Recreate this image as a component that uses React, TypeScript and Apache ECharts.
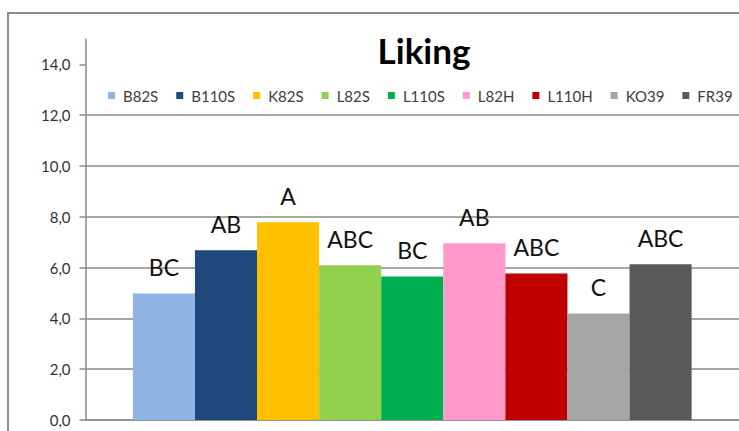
import React, { useEffect, useRef } from "react";
import * as echarts from "echarts";

// Liking scores per sample, with significance groups shown above each bar
const samples = ["B82S", "B110S", "K82S", "L82S", "L110S", "L82H", "L110H", "KO39", "FR39"];
const liking = [4.98, 6.68, 7.79, 6.09, 5.65, 6.96, 5.77, 4.19, 6.13];
const groups = ["BC", "AB", "A", "ABC", "BC", "AB", "ABC", "C", "ABC"];
const colors = ["#8DB4E2", "#1F497D", "#FFC000", "#92D050", "#00B050", "#FF99CC", "#C00000", "#A5A5A5", "#595959"];
const yTicks = [0, 2, 4, 6, 8, 10, 12, 14];
const category = ["Liking"];

const FONT = "Lato, 'Open Sans', sans-serif";
const GRID = "#8A8A8A";

export default function App() {
  const ref = useRef<HTMLDivElement>(null);

  useEffect(() => {
    if (!ref.current) return;
    const chart = echarts.init(ref.current, undefined, { renderer: "svg" });

    const series = samples.map((name, i) => ({
      name,
      type: "bar" as const,
      data: [liking[i]],
      barGap: "0%",
      barCategoryGap: "14.5%",
      itemStyle: { color: colors[i] },
      label: {
        show: true,
        position: "top" as const,
        distance: 15,
        formatter: () => groups[i],
        fontFamily: FONT,
        fontSize: 23,
        color: "#111",
      },
    }));

    chart.setOption({
      animation: false,
      backgroundColor: "#fff",
      color: colors,
      grid: { left: 85.5, top: 39, right: -5, bottom: 11, containLabel: false },
      legend: {
        left: 103,
        top: 83,
        itemWidth: 7,
        itemHeight: 7,
        itemGap: 18,
        icon: "rect",
        data: samples,
        textStyle: {
          fontFamily: FONT,
          fontSize: 15,
          color: "#404040",
          padding: [0, 0, 0, 3],
        },
      },
      xAxis: {
        type: "category",
        data: category,
        axisLine: { lineStyle: { color: GRID, width: 1.5 } },
        axisTick: { show: false },
        axisLabel: { show: false },
      },
      yAxis: {
        type: "value",
        min: 0,
        max: 15,
        interval: 2,
        axisLine: { show: true, lineStyle: { color: GRID, width: 1.5 } },
        axisTick: { show: true, length: 6, customValues: yTicks, lineStyle: { color: GRID, width: 1.5 } },
        axisLabel: {
          customValues: yTicks,
          margin: 15,
          fontFamily: FONT,
          fontSize: 15,
          color: "#333",
          formatter: (v: number) => v.toFixed(1).replace(".", ","),
        },
        splitLine: { show: true, showMaxLine: false, lineStyle: { color: GRID, width: 1.5 } },
      },
      graphic: [
        {
          type: "rect",
          shape: { x: 8, y: 13, width: 900, height: 600 },
          style: { fill: "none", stroke: "#8C8C8C", lineWidth: 2 },
          silent: true,
        },
        {
          type: "text",
          x: 424,
          y: 50,
          style: {
            text: "Liking",
            align: "center",
            verticalAlign: "middle",
            fontFamily: FONT,
            fontWeight: "bold",
            fontSize: 35,
            fill: "#000",
          },
        },
      ],
      series,
    });

    return () => chart.dispose();
  }, []);

  return (
    <div
      ref={ref}
      style={{ position: "fixed", left: 0, top: 0, width: 739, height: 431, overflow: "hidden" }}
    />
  );
}
